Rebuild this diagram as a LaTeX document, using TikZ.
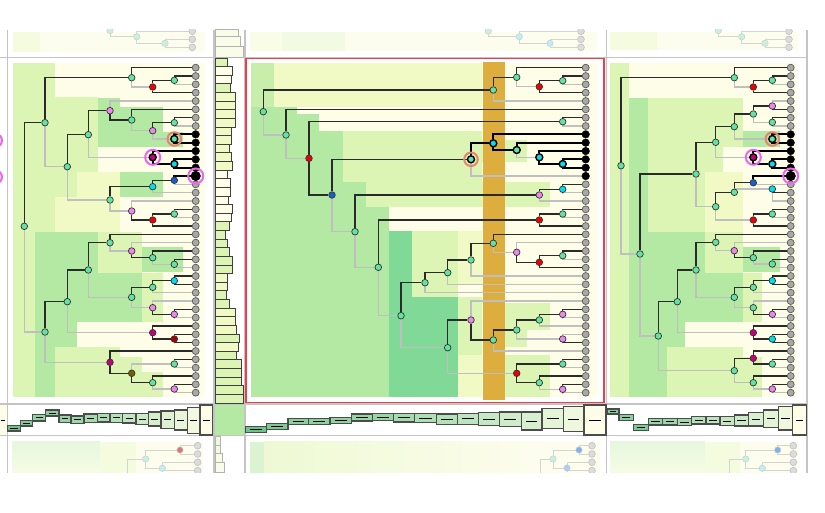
\documentclass[tikz,border=0pt]{standalone}
\pgfdeclarelayer{bglayer}
\pgfdeclarelayer{edgelayer}
\pgfsetlayers{bglayer,edgelayer,main}
\definecolor{cr}{HTML}{FEFEE8}
\definecolor{pl}{HTML}{F1F9C4}
\definecolor{lg}{HTML}{DCF4B4}
\definecolor{mg}{HTML}{B4E9A3}
\definecolor{dg}{HTML}{80D996}
\definecolor{hg}{HTML}{6CC48A}
\definecolor{goldband}{HTML}{DDAE3E}
\definecolor{mint}{HTML}{62E3A4}
\definecolor{vio}{HTML}{EE86EE}
\definecolor{rd}{HTML}{F00000}
\definecolor{cy}{HTML}{00DDEE}
\definecolor{bl}{HTML}{1560C8}
\definecolor{mag}{HTML}{C4007C}
\definecolor{dred}{HTML}{A80000}
\definecolor{olv}{HTML}{6E6400}
\definecolor{lfgray}{HTML}{A8A8A8}
\definecolor{edgegray}{HTML}{BFBFBF}
\definecolor{edgeblack}{HTML}{2A2A2A}
\definecolor{gridgray}{HTML}{C4C4C4}
\definecolor{redbox}{HTML}{E8404C}
\definecolor{ringor}{HTML}{E8846C}
\definecolor{ringmg}{HTML}{F064EC}
\definecolor{fgray}{HTML}{DCDCDC}
\definecolor{fline}{HTML}{D4D4D4}
\definecolor{fmint}{HTML}{C6F2DC}
\definecolor{fcyan}{HTML}{BDEFF4}
\definecolor{fred}{HTML}{D87878}
\definecolor{fblue}{HTML}{7FB2E6}
\definecolor{fblue2}{HTML}{AACDF0}
\definecolor{fpanel}{HTML}{FDFDEE}
\tikzset{
  nd/.style={circle,draw=black!80,line width=0.7pt,inner sep=0pt,minimum size=6.6pt,fill=#1},
  ndh/.style={circle,draw=black,line width=1.4pt,inner sep=0pt,minimum size=7pt,fill=#1},
  leafnd/.style={circle,draw=black!65,line width=0.7pt,inner sep=0pt,minimum size=7pt,fill=lfgray},
  bleaf/.style={circle,draw=black,fill=black,inner sep=0pt,minimum size=7.6pt},
  bigleaf/.style={circle,draw=black,fill=black,inner sep=0pt,minimum size=9.6pt},
  bk/.style={draw=edgeblack,line width=1.2pt},
  gy/.style={draw=edgegray,line width=1.2pt},
  bkt/.style={draw=black,line width=2.2pt},
  orring/.style={circle,draw=ringor,line width=2pt,inner sep=0pt,minimum size=13.5pt},
  mgring/.style={circle,draw=ringmg,line width=2pt,inner sep=0pt,minimum size=15pt},
  fnd/.style={circle,draw=black!20,line width=0.5pt,inner sep=0pt,minimum size=6.4pt,fill=#1},
  fleaf/.style={circle,draw=black!25,line width=0.6pt,inner sep=0pt,minimum size=6.8pt,fill=fgray},
  fl/.style={draw=fline,line width=1pt},
  hbox/.style={draw=black!70,line width=1.2pt},
  dashln/.style={draw=black,line width=0.9pt},
  vbar/.style={draw=black!75,line width=0.8pt},
  gridln/.style={draw=gridgray,line width=1.4pt}
}
\begin{document}
\begin{tikzpicture}[x=1pt,y=-1pt]
\useasboundingbox (0,0) rectangle (825,513);
\begin{pgfonlayer}{bglayer}
\fill[white] (0,0) rectangle (825,513);
% ---------- faded top row ----------
\fill[fpanel] (12.7,31.7) rectangle (205,52);
\fill[lg!25!fpanel] (12.7,31.7) rectangle (40,52);
\fill[fpanel] (250,31.7) rectangle (597,51);
\fill[lg!12!fpanel] (250,31.7) rectangle (281.7,51);
\fill[mg!15!fpanel] (281.7,31.7) rectangle (345,51);
\fill[fpanel] (610,31.7) rectangle (798,50);
\fill[lg!25!fpanel] (610,31.7) rectangle (657,50);
% ---------- faded bottom row ----------
\fill[fpanel] (12.7,441.7) rectangle (203,474);
\shade[top color=mg!35!white,bottom color=lg!15!fpanel] (12.7,441.7) rectangle (100,474);
\fill[lg!25!fpanel] (100,441.7) rectangle (136,474);
\fill[fpanel] (250,441.7) rectangle (600,474);
\fill[mg!50!white] (250,441.7) rectangle (264,474);
\shade[left color=lg!45!fpanel,right color=fpanel] (264,441.7) rectangle (547,474);
\fill[fpanel] (610,441.7) rectangle (798,474);
\shade[top color=mg!35!white,bottom color=lg!15!fpanel] (610,441.7) rectangle (705,474);
\fill[lg!25!fpanel] (705,441.7) rectangle (740,474);
% ---------- left panel background ----------
\fill[cr] (12.7,63) rectangle (205,397);
\fill[lg] (12.7,63) rectangle (55,397);
\fill[lg] (55,96.7) rectangle (98.3,171.7);
\fill[mg] (98.3,98.3) rectangle (120,146.7);
\fill[mg] (120,106.7) rectangle (162.7,146.7);
\fill[mg] (162.7,131.7) rectangle (183.3,146.7);
\fill[lg] (55,171.7) rectangle (76.7,196.7);
\fill[pl] (76.7,171.7) rectangle (120,196.7);
\fill[mg] (120,171.7) rectangle (162.7,196.7);
\fill[pl] (55,196.7) rectangle (120,231.7);
\fill[mg] (34.7,231.7) rectangle (55,397);
\fill[mg] (55,231.7) rectangle (98.3,321.7);
\fill[lg] (98.3,231.7) rectangle (141.7,273.3);
\fill[mg] (141.7,246.7) rectangle (183.3,271.7);
\fill[mg] (98.3,273.3) rectangle (141.7,321.7);
\fill[lg] (141.7,273.3) rectangle (163.3,321.7);
\fill[mg] (55,321.7) rectangle (76.7,346.7);
\fill[lg] (55,346.7) rectangle (120,397);
\fill[lg] (120,356.7) rectangle (141.7,397);
\fill[lg] (141.7,371.7) rectangle (163.3,397);
% ---------- middle panel background ----------
\fill[cr] (250.7,63.3) rectangle (597.3,396.7);
\fill[lg!50!mg] (250.7,63.3) rectangle (274,106.7);
\fill[mg] (250.7,106.7) rectangle (274,396.7);
\fill[pl] (274,63.3) rectangle (482,106.7);
\fill[mg] (274,106.7) rectangle (296.7,396.7);
\fill[mg] (296.7,114) rectangle (319.3,396.7);
\fill[mg] (319.3,131) rectangle (342.7,396.7);
\fill[lg] (342.7,131) rectangle (482,181.7);
\fill[lg] (482,140) rectangle (526.7,161.7);
\fill[mg] (342.7,181.7) rectangle (366,396.7);
\fill[lg] (366,181.7) rectangle (550,206.7);
\fill[mg] (366,206.7) rectangle (389,396.7);
\fill[dg] (389,231) rectangle (412.3,396.7);
\fill[lg] (412.3,231) rectangle (458.3,296.7);
\fill[dg] (412.3,296.7) rectangle (458.3,396.7);
\fill[pl] (458.3,231) rectangle (482,285);
\fill[lg] (458.3,296.7) rectangle (482,355);
\fill[pl] (458.3,355) rectangle (482,396.7);
\fill[lg] (505,303) rectangle (550,330);
\fill[lg] (505,330) rectangle (527,346.7);
\fill[lg] (505,355) rectangle (550,396.7);
\fill[goldband] (482.7,62) rectangle (505,400);
% ---------- right panel background ----------
\fill[cr] (610,63) rectangle (797,397);
\fill[lg] (610,63) rectangle (629.3,397);
\fill[mg] (629.3,97.7) rectangle (648.3,397);
\fill[lg] (648.3,97.7) rectangle (743.3,173);
\fill[mg] (743.3,131) rectangle (780,146.7);
\fill[cr] (723.3,146.7) rectangle (761.7,173);
\fill[lg] (648.3,173) rectangle (705,231.7);
\fill[pl] (705,171.7) rectangle (743.3,231.7);
\fill[mg] (648.3,231.7) rectangle (666.7,397);
\fill[mg] (666.7,231.7) rectangle (685,346.7);
\fill[mg] (685,231.7) rectangle (705,321.7);
\fill[lg] (705,231.7) rectangle (743.3,272.7);
\fill[mg] (705,272.7) rectangle (743.3,321.7);
\fill[mg] (743.3,246.7) rectangle (780,271.7);
\fill[lg] (743.3,272.7) rectangle (762,321.7);
\fill[cr] (685,321.7) rectangle (797,346.7);
\fill[lg] (666.7,346.7) rectangle (743.3,397);
\fill[lg] (743.3,356.7) rectangle (762,397);
% ---------- grid ----------
\draw[gridln] (0,57.3) -- (808,57.3);
\draw[gridln] (0,404) -- (808,404);
\draw[gridln] (0,435.5) -- (808,435.5);
\draw[gridln] (7.3,30) -- (7.3,474);
\draw[gridln] (213.8,30) -- (213.8,474);
\draw[gridln] (245,30) -- (245,474);
\draw[gridln] (606.5,30) -- (606.5,474);
\draw[gridln] (807,30) -- (807,474);
\draw[redbox,line width=1.5pt] (245.9,58.5) rectangle (604,402.7);
\end{pgfonlayer}

% ---------- vertical histogram column ----------
\foreach \w/\c [count=\k from 0] in {227.3/lg,232.3/cr,231.7/cr,230/lg,235/pl,235/pl,235/pl,235/pl,231.7/pl,231.7/pl,229.3/pl,231.7/pl,232.3/pl,227.7/cr,230/cr,230/cr,228.3/cr,232.3/cr,231.7/cr,229.3/lg,225/lg,227.7/lg,229.3/lg,232.3/lg,232.3/lg,227.3/pl,227.3/pl,226.7/lg,229.3/lg,235/pl,235/pl,236.7/pl,239.3/lg,238.3/pl,236.7/lg,241.7/lg,241.7/lg,241.7/lg,243.3/lg,243.3/lg}
  \draw[vbar,fill=\c] (215,{58+8.625*\k}) rectangle (\w,{58+8.625*(\k+1)});
\draw[vbar,draw=black!30,fill=pl!40!white] (215,29) rectangle (238.3,36.7);
\draw[vbar,draw=black!30,fill=pl!40!white] (215,36.7) rectangle (240.7,46.7);
\draw[vbar,draw=black!30,fill=pl!40!white] (215,46.7) rectangle (243.3,57.3);
\draw[vbar,draw=black!30,fill=lg!50!white] (215,436.5) rectangle (220,445);
\draw[vbar,draw=black!30,fill=lg!40!white] (215,445) rectangle (220.5,453.5);
\draw[vbar,draw=black!30,fill=pl!50!white] (215,453.5) rectangle (222,462);
\draw[vbar,draw=black!30,fill=pl!40!white] (215,462) rectangle (224.7,472);

% ---------- bottom histograms ----------
\fill[mg] (214.5,404.8) rectangle (244.3,434.8);
\fill[cr] (0,404.8) rectangle (6.6,434.8);
\draw[dashln] (0.5,420) -- (5,420);
\foreach \xa/\xb/\ya/\yb/\sh in {7.3/20.7/425.7/431/100,20.7/32.7/420.7/426/88,32.7/45.7/414.3/421/75,45.7/59/410/416/80,59/71/415/422.7/70,71/84/416/423.7/68,84/97.3/414/422.7/62,97.3/110/413.3/422/58,110/122.7/413.3/422.3/50,122.7/136/413.3/423/42,136/148.7/413.3/424.7/35,148.7/161/412/426/28,161/174.3/411/428.3/22,174.3/187.3/410/430/15,187.3/200/407.3/433.3/8,200/212.7/405/435/0,
245.2/266.8/426.7/432.7/100,266.8/288/423.3/429.3/90,288/308.8/418.3/424.3/80,308.8/330/418.3/424.3/78,330/351.2/417.3/423.3/74,351.2/372.8/414/421/72,372.8/393.6/413.3/420.7/70,393.6/414.4/413.3/422/62,414.4/436.4/413.3/422.7/55,436.4/457.2/414/424.3/50,457.2/478.4/413.3/424.3/45,478.4/499.2/412.7/425.3/38,499.2/521.2/412/426.7/32,521.2/542/412/430/26,542/563.2/408.3/428.3/18,563.2/584/406.7/431.7/10,584/606/405/435/0,
607/619/409/414/85,619/633.3/414.3/420.7/80,633.3/648.3/424.3/430.7/90,648.3/662.7/418.3/425/70,662.7/677.3/418.3/425/68,677.3/691.7/418.3/425.7/64,691.7/706/416.7/424/50,706/720/416.7/424/45,720/734.3/416.7/425.7/40,734.3/748.7/415/426/35,748.7/763.3/412.7/426/25,763.3/778.3/410/427.7/18,778.3/792.7/406.7/430/10,792.7/806.5/405/435/0}
{
  \draw[hbox,fill=hg!\sh!cr] (\xa,\ya) rectangle (\xb,\yb);
  \draw[dashln] ({\xa+0.22*(\xb-\xa)},{(\ya+\yb)/2}) -- ({\xb-0.22*(\xb-\xa)},{(\ya+\yb)/2});
}

% ---------- partial rings at far left ----------
\draw[ringmg,line width=2pt] (-4.5,140.5) circle (6.5);
\draw[ringmg,line width=2pt] (-4.5,177) circle (6.5);

% ================= LEFT TREE =================
\foreach \i in {0,...,7} \node[leafnd] (la\i) at (195.7,{67.7+8.333*\i}) {};
\foreach \i in {14,...,39} \node[leafnd] (la\i) at (195.7,{67.7+8.333*\i}) {};
\foreach \i in {8,...,12} \node[bleaf] (la\i) at (195.7,{67.7+8.333*\i}) {};
\node[bigleaf] (la13) at (195.7,176) {};
\node[mgring] (la13r) at (la13) {};
\node[nd=mint] (lR) at (24.3,226.3) {};
\node[nd=mint] (lA) at (45,122.7) {};
\node[nd=mint] (lN1) at (131.7,77.7) {};
\node[nd=rd] (lR1) at (152.7,87) {};
\node[nd=mint] (lG1) at (174.3,80.3) {};
\node[nd=mint] (lC) at (67.3,166.7) {};
\node[nd=mint] (lD) at (88.3,134.7) {};
\node[nd=vio] (lP1) at (110,110.7) {};
\node[nd=mint] (lG2) at (131.7,120) {};
\node[nd=vio] (lP2) at (152.7,130.7) {};
\node[nd=mint] (lG3) at (174.3,122.7) {};
\node[ndh=mint] (lG4) at (174.3,139) {};
\node[orring] (lG4r) at (lG4) {};
\node[ndh=mag] (lM1) at (152.7,157.3) {};
\node[mgring] (lM1r) at (lM1) {};
\node[ndh=cy] (lC1) at (174.3,164) {};
\node[nd=mint] (lE) at (110,200) {};
\node[nd=cy] (lCY1) at (152.7,186.7) {};
\node[nd=bl] (lBL1) at (174.3,180.3) {};
\node[nd=vio] (lP3) at (131.7,211) {};
\node[nd=rd] (lR2) at (152.7,220) {};
\node[nd=mint] (lG5) at (174.3,214) {};
\node[nd=mint] (lB2) at (45,332) {};
\node[nd=mint] (lF) at (67.3,301.7) {};
\node[nd=mint] (lH) at (88.3,270) {};
\node[nd=mint] (lI) at (110,242.7) {};
\node[nd=vio] (lP4) at (131.7,251) {};
\node[nd=mint] (lG6) at (152.7,257.7) {};
\node[nd=mint] (lG7) at (174.3,264.3) {};
\node[nd=mint] (lJ) at (131.7,297.3) {};
\node[nd=mint] (lG8) at (152.7,287.3) {};
\node[nd=cy] (lC2) at (174.3,280.7) {};
\node[nd=vio] (lP5) at (152.7,307.7) {};
\node[nd=vio] (lP6) at (174.3,314.3) {};
\node[nd=mag] (lM3) at (152.7,332.7) {};
\node[nd=dred] (lDR) at (174.3,339) {};
\node[nd=mag] (lM2) at (110,362.3) {};
\node[nd=olv] (lO) at (131.7,373.3) {};
\node[nd=mint] (lG9) at (174.3,364) {};
\node[nd=mint] (lG10) at (152.7,382.7) {};
\node[nd=vio] (lP7) at (174.3,389) {};

% ================= MIDDLE TREE =================
\foreach \i in {0,...,7} \node[leafnd] (ma\i) at (585.7,{67.7+8.333*\i}) {};
\foreach \i in {14,...,39} \node[leafnd] (ma\i) at (585.7,{67.7+8.333*\i}) {};
\foreach \i in {8,...,13} \node[bleaf] (ma\i) at (585.7,{67.7+8.333*\i}) {};
\node[nd=mint] (mR) at (263.3,111.7) {};
\node[nd=mint] (mN1) at (493.3,90) {};
\node[nd=mint] (mB) at (516.7,77.3) {};
\node[nd=rd] (mRd1) at (539.3,86.7) {};
\node[nd=mint] (mG1) at (562.7,80.7) {};
\node[nd=mint] (mA) at (286,135) {};
\node[nd=rd] (mRd2) at (309,158.3) {};
\node[nd=mint] (mG2) at (562.7,121.7) {};
\node[nd=bl] (mBl) at (332,195) {};
\node[ndh=mint] (mRing) at (471,159.3) {};
\node[orring] (mRingr) at (mRing) {};
\node[ndh=cy] (mCy1) at (493.3,143.3) {};
\node[ndh=mint] (mG3) at (516.7,150) {};
\node[ndh=cy] (mCy2) at (539.3,157.3) {};
\node[ndh=cy] (mCy3) at (562.7,164) {};
\node[nd=mint] (mC) at (355,231.7) {};
\node[nd=vio] (mP1) at (539.3,195) {};
\node[nd=cy] (mCy4) at (562.7,189.3) {};
\node[nd=mint] (mD) at (378.3,267.3) {};
\node[nd=rd] (mRd3) at (539.3,220) {};
\node[nd=mint] (mG4) at (562.7,214) {};
\node[nd=mint] (mE) at (401,315.7) {};
\node[nd=mint] (mF) at (425,282.7) {};
\node[nd=mint] (mG) at (447.7,272.7) {};
\node[nd=mint] (mI) at (471,260) {};
\node[nd=mint] (mJ) at (493.3,243.3) {};
\node[nd=vio] (mP2) at (516.7,252.3) {};
\node[nd=rd] (mRd4) at (539.3,262.3) {};
\node[nd=mint] (mG5) at (562.7,255.7) {};
\node[nd=mint] (mH) at (447.7,347.7) {};
\node[nd=vio] (mP3) at (471,320) {};
\node[nd=mint] (mG6) at (493.3,340) {};
\node[nd=mint] (mK) at (516.7,330) {};
\node[nd=mint] (mL) at (539.3,320) {};
\node[nd=vio] (mP4) at (562.7,314.3) {};
\node[nd=vio] (mP5) at (562.7,339) {};
\node[nd=rd] (mRd5) at (516.7,373.3) {};
\node[nd=mint] (mG7) at (562.7,364) {};
\node[nd=mint] (mG8) at (539.3,382.7) {};
\node[nd=vio] (mP6) at (562.7,389.3) {};

% ================= RIGHT TREE =================
\foreach \i in {0,...,7} \node[leafnd] (ra\i) at (790.7,{67.7+8.333*\i}) {};
\foreach \i in {14,...,39} \node[leafnd] (ra\i) at (790.7,{67.7+8.333*\i}) {};
\foreach \i in {8,...,12} \node[bleaf] (ra\i) at (790.7,{67.7+8.333*\i}) {};
\node[bigleaf] (ra13) at (790.7,176) {};
\node[mgring] (ra13r) at (ra13) {};
\node[nd=mint] (rR) at (621,165.7) {};
\node[nd=mint] (rA) at (734.3,77.7) {};
\node[nd=rd] (rRd1) at (753.3,87) {};
\node[nd=mint] (rG1) at (772.3,80.3) {};
\node[nd=mint] (rB) at (640,254) {};
\node[nd=mint] (rC) at (696,174) {};
\node[nd=mint] (rD) at (715.7,142.3) {};
\node[nd=mint] (rE) at (734.3,126.7) {};
\node[nd=mint] (rF) at (753.3,114) {};
\node[nd=vio] (rP1) at (772.3,106) {};
\node[nd=mint] (rG2) at (772.3,122.3) {};
\node[ndh=mint] (rRing) at (772.3,139) {};
\node[orring] (rRingr) at (rRing) {};
\node[ndh=mag] (rM1) at (753.3,157.3) {};
\node[mgring] (rM1r) at (rM1) {};
\node[ndh=cy] (rCy1) at (772.3,164) {};
\node[nd=mint] (rH) at (715.7,206.7) {};
\node[nd=mint] (rI) at (734.3,192.3) {};
\node[nd=bl] (rBl) at (753.3,182.7) {};
\node[nd=cy] (rCy2) at (772.3,189) {};
\node[nd=rd] (rRd2) at (753.3,220) {};
\node[nd=mint] (rG3) at (772.3,214) {};
\node[nd=mint] (rK) at (658.3,336) {};
\node[nd=mint] (rL) at (677.3,301.7) {};
\node[nd=mint] (rN) at (696,270) {};
\node[nd=mint] (rO) at (715.7,242.3) {};
\node[nd=vio] (rP2) at (734.3,250.7) {};
\node[nd=mint] (rS) at (753.3,257.7) {};
\node[nd=mint] (rG4) at (772.3,264) {};
\node[nd=mint] (rQ) at (734.3,297.3) {};
\node[nd=mint] (rU) at (753.3,287.3) {};
\node[nd=cy] (rCy3) at (772.3,280.7) {};
\node[nd=mint] (rV) at (753.3,307.7) {};
\node[nd=vio] (rP3) at (772.3,314.3) {};
\node[nd=mag] (rM2) at (753.3,332.7) {};
\node[nd=cy] (rCy4) at (772.3,339) {};
\node[nd=mint] (rT) at (734.3,370.7) {};
\node[nd=mag] (rM3) at (753.3,358.3) {};
\node[nd=mint] (rG5) at (772.3,364) {};
\node[nd=mint] (rW) at (753.3,382.7) {};
\node[nd=vio] (rP4) at (772.3,389) {};

% ================= FADED TREES =================
\node[fnd=fmint] (tl1) at (110,30.5) {};
\node[fnd=fmint] (tl2) at (136.7,36.7) {};
\node[fnd=fmint] (tl3) at (165,43.3) {};
\node[fleaf] (tlL0) at (192.3,31.2) {};
\node[fleaf] (tlL1) at (192.3,39.3) {};
\node[fleaf] (tlL2) at (192.3,47.3) {};
\node[fnd=fmint] (tm1) at (488.3,31) {};
\node[fnd=fcyan] (tm2) at (519.3,36.7) {};
\node[fnd=fcyan] (tm3) at (550,43.3) {};
\node[fleaf] (tmL0) at (581,31.2) {};
\node[fleaf] (tmL1) at (581,39.3) {};
\node[fleaf] (tmL2) at (581,47.3) {};
\node[fnd=fmint] (tr1) at (718.3,30.5) {};
\node[fnd=fmint] (tr2) at (741.7,36.7) {};
\node[fnd=fmint] (tr3) at (765,43.3) {};
\node[fleaf] (trL0) at (789,31.2) {};
\node[fleaf] (trL1) at (789,39.3) {};
\node[fleaf] (trL2) at (789,47.3) {};
\node[fnd=fmint] (bl1) at (145.7,459) {};
\node[fnd=fred] (bl2) at (180,450) {};
\node[fnd=fcyan] (bl3) at (162.3,468.3) {};
\foreach \i/\yy in {0/445.7,1/454,2/462.3,3/470.7} \node[fleaf] (blL\i) at (197.7,\yy) {};
\coordinate (blx) at (127.7,478);
\node[fnd=fmint] (bm1) at (553,459) {};
\node[fnd=fblue] (bm2) at (579,450) {};
\node[fnd=fblue2] (bm3) at (567,468) {};
\foreach \i/\yy in {0/445.7,1/454,2/462.3,3/470.7} \node[fleaf] (bmL\i) at (592,\yy) {};
\coordinate (bmx) at (540,478);
\node[fnd=fmint] (br1) at (745.7,459) {};
\node[fnd=fblue] (br2) at (777.7,450) {};
\node[fnd=fcyan] (br3) at (762.3,468.3) {};
\foreach \i/\yy in {0/445.7,1/454,2/462.3,3/470.7} \node[fleaf] (brL\i) at (793.3,\yy) {};
\coordinate (brx) at (729.3,478);

\begin{pgfonlayer}{edgelayer}
% left tree
\draw[bk] (lR) |- (lA); \draw[gy] (lR) |- (lB2);
\draw[bk] (lA) |- (lN1); \draw[gy] (lA) |- (lC);
\draw[bk] (lN1) |- (la0); \draw[gy] (lN1) |- (lR1);
\draw[bk] (lR1) |- (lG1); \draw[bk] (lR1) |- (la3);
\draw[bk] (lG1) |- (la1); \draw[gy] (lG1) |- (la2);
\draw[bk] (lC) |- (lD); \draw[gy] (lC) |- (lE);
\draw[bk] (lD) |- (lP1); \draw[gy] (lD) |- (lM1);
\draw[gy] (lP1) |- (la4); \draw[bk] (lP1) |- (lG2);
\draw[bk] (lG2) |- (la5); \draw[gy] (lG2) |- (lP2);
\draw[bk] (lP2) |- (lG3); \draw[gy] (lP2) |- (lG4);
\draw[bk] (lG3) |- (la6); \draw[gy] (lG3) |- (la7);
\draw[bkt] (lG4) |- (la8); \draw[bkt] (lG4) |- (la9);
\draw[bkt] (lM1) |- (la10); \draw[bkt] (lM1) |- (lC1);
\draw[bkt] (lC1) |- (la11); \draw[bkt] (lC1) |- (la12);
\draw[bk] (lE) |- (lCY1); \draw[gy] (lE) |- (lP3);
\draw[bk] (lCY1) |- (lBL1); \draw[gy] (lCY1) |- (la15);
\draw[bkt] (lBL1) |- (la13); \draw[gy] (lBL1) |- (la14);
\draw[gy] (lP3) |- (la16); \draw[bk] (lP3) |- (lR2);
\draw[bk] (lR2) |- (lG5); \draw[bk] (lR2) |- (la19);
\draw[bk] (lG5) |- (la17); \draw[gy] (lG5) |- (la18);
\draw[bk] (lB2) |- (lF); \draw[gy] (lB2) |- (lM2);
\draw[bk] (lF) |- (lH); \draw[gy] (lF) |- (lM3);
\draw[bk] (lH) |- (lI); \draw[gy] (lH) |- (lJ);
\draw[bk] (lI) |- (la20); \draw[gy] (lI) |- (lP4);
\draw[gy] (lP4) |- (la21); \draw[bk] (lP4) |- (lG6);
\draw[bk] (lG6) |- (la22); \draw[gy] (lG6) |- (lG7);
\draw[bk] (lG7) |- (la23); \draw[gy] (lG7) |- (la24);
\draw[bk] (lJ) |- (lG8); \draw[gy] (lJ) |- (lP5);
\draw[bk] (lG8) |- (lC2); \draw[gy] (lG8) |- (la27);
\draw[bk] (lC2) |- (la25); \draw[bk] (lC2) |- (la26);
\draw[gy] (lP5) |- (la28); \draw[bk] (lP5) |- (lP6);
\draw[bk] (lP6) |- (la29); \draw[gy] (lP6) |- (la30);
\draw[bk] (lM3) |- (la31); \draw[bk] (lM3) |- (lDR);
\draw[bk] (lDR) |- (la32); \draw[bk] (lDR) |- (la33);
\draw[bk] (lM2) |- (la34); \draw[bk] (lM2) |- (lO);
\draw[gy] (lO) |- (lG9); \draw[bk] (lO) |- (lG10);
\draw[bk] (lG9) |- (la35); \draw[gy] (lG9) |- (la36);
\draw[bk] (lG10) |- (la37); \draw[gy] (lG10) |- (lP7);
\draw[bk] (lP7) |- (la38); \draw[gy] (lP7) |- (la39);
% middle tree
\draw[bk] (mR) |- (mN1); \draw[gy] (mR) |- (mA);
\draw[bk] (mN1) |- (mB); \draw[gy] (mN1) |- (ma4);
\draw[bk] (mB) |- (ma0); \draw[gy] (mB) |- (mRd1);
\draw[bk] (mRd1) |- (mG1); \draw[bk] (mRd1) |- (ma3);
\draw[bk] (mG1) |- (ma1); \draw[gy] (mG1) |- (ma2);
\draw[bk] (mA) |- (ma5); \draw[gy] (mA) |- (mRd2);
\draw[bk] (mRd2) |- (mG2); \draw[bk] (mRd2) |- (mBl);
\draw[bk] (mG2) |- (ma6); \draw[gy] (mG2) |- (ma7);
\draw[bk] (mBl) |- (mRing); \draw[gy] (mBl) |- (mC);
\draw[bkt] (mRing) |- (mCy1); \draw[gy] (mRing) |- (ma13);
\draw[bkt] (mCy1) |- (ma8); \draw[bkt] (mCy1) |- (mG3);
\draw[bkt] (mG3) |- (ma9); \draw[gy] (mG3) |- (mCy2);
\draw[bkt] (mCy2) |- (ma10); \draw[bkt] (mCy2) |- (mCy3);
\draw[bkt] (mCy3) |- (ma11); \draw[bkt] (mCy3) |- (ma12);
\draw[bk] (mC) |- (mP1); \draw[gy] (mC) |- (mD);
\draw[bk] (mP1) |- (mCy4); \draw[gy] (mP1) |- (ma16);
\draw[bk] (mCy4) |- (ma14); \draw[gy] (mCy4) |- (ma15);
\draw[bk] (mD) |- (mRd3); \draw[gy] (mD) |- (mE);
\draw[bk] (mRd3) |- (mG4); \draw[bk] (mRd3) |- (ma19);
\draw[bk] (mG4) |- (ma17); \draw[gy] (mG4) |- (ma18);
\draw[bk] (mE) |- (mF); \draw[gy] (mE) |- (mH);
\draw[bk] (mF) |- (mG); \draw[gy] (mF) |- (ma27);
\draw[bk] (mG) |- (mI); \draw[gy] (mG) |- (ma26);
\draw[bk] (mI) |- (mJ); \draw[gy] (mI) |- (ma25);
\draw[bk] (mJ) |- (ma20); \draw[gy] (mJ) |- (mP2);
\draw[gy] (mP2) |- (ma21); \draw[bk] (mP2) |- (mRd4);
\draw[bk] (mRd4) |- (mG5); \draw[bk] (mRd4) |- (ma24);
\draw[bk] (mG5) |- (ma22); \draw[gy] (mG5) |- (ma23);
\draw[bk] (mH) |- (mP3); \draw[gy] (mH) |- (mRd5);
\draw[gy] (mP3) |- (ma28); \draw[bk] (mP3) |- (mG6);
\draw[bk] (mG6) |- (mK); \draw[gy] (mG6) |- (ma34);
\draw[bk] (mK) |- (mL); \draw[gy] (mK) |- (mP5);
\draw[bk] (mL) |- (mP4); \draw[gy] (mL) |- (ma31);
\draw[bk] (mP4) |- (ma29); \draw[gy] (mP4) |- (ma30);
\draw[gy] (mP5) |- (ma32); \draw[bk] (mP5) |- (ma33);
\draw[bk] (mRd5) |- (mG7); \draw[bk] (mRd5) |- (mG8);
\draw[bk] (mG7) |- (ma35); \draw[gy] (mG7) |- (ma36);
\draw[bk] (mG8) |- (ma37); \draw[gy] (mG8) |- (mP6);
\draw[bk] (mP6) |- (ma38); \draw[gy] (mP6) |- (ma39);
% right tree
\draw[bk] (rR) |- (rA); \draw[gy] (rR) |- (rB);
\draw[bk] (rA) |- (ra0); \draw[gy] (rA) |- (rRd1);
\draw[bk] (rRd1) |- (rG1); \draw[bk] (rRd1) |- (ra3);
\draw[bk] (rG1) |- (ra1); \draw[gy] (rG1) |- (ra2);
\draw[bk] (rB) |- (rC); \draw[gy] (rB) |- (rK);
\draw[bk] (rC) |- (rD); \draw[gy] (rC) |- (rH);
\draw[bk] (rD) |- (rE); \draw[gy] (rD) |- (rM1);
\draw[bk] (rE) |- (rF); \draw[gy] (rE) |- (rRing);
\draw[bk] (rF) |- (rP1); \draw[gy] (rF) |- (rG2);
\draw[gy] (rP1) |- (ra4); \draw[bk] (rP1) |- (ra5);
\draw[bk] (rG2) |- (ra6); \draw[gy] (rG2) |- (ra7);
\draw[bkt] (rRing) |- (ra8); \draw[bkt] (rRing) |- (ra9);
\draw[bkt] (rM1) |- (ra10); \draw[bkt] (rM1) |- (rCy1);
\draw[bkt] (rCy1) |- (ra11); \draw[bkt] (rCy1) |- (ra12);
\draw[bk] (rH) |- (rI); \draw[gy] (rH) |- (rRd2);
\draw[bk] (rI) |- (rBl); \draw[gy] (rI) |- (rCy2);
\draw[bkt] (rBl) |- (ra13); \draw[gy] (rBl) |- (ra14);
\draw[bk] (rCy2) |- (ra15); \draw[gy] (rCy2) |- (ra16);
\draw[bk] (rRd2) |- (rG3); \draw[bk] (rRd2) |- (ra19);
\draw[bk] (rG3) |- (ra17); \draw[gy] (rG3) |- (ra18);
\draw[bk] (rK) |- (rL); \draw[gy] (rK) |- (rT);
\draw[bk] (rL) |- (rN); \draw[gy] (rL) |- (rM2);
\draw[bk] (rN) |- (rO); \draw[gy] (rN) |- (rQ);
\draw[bk] (rO) |- (ra20); \draw[gy] (rO) |- (rP2);
\draw[gy] (rP2) |- (ra21); \draw[bk] (rP2) |- (rS);
\draw[bk] (rS) |- (ra22); \draw[gy] (rS) |- (rG4);
\draw[bk] (rG4) |- (ra23); \draw[gy] (rG4) |- (ra24);
\draw[bk] (rQ) |- (rU); \draw[gy] (rQ) |- (rV);
\draw[bk] (rU) |- (rCy3); \draw[gy] (rU) |- (ra27);
\draw[bk] (rCy3) |- (ra25); \draw[bk] (rCy3) |- (ra26);
\draw[gy] (rV) |- (ra28); \draw[bk] (rV) |- (rP3);
\draw[bk] (rP3) |- (ra29); \draw[gy] (rP3) |- (ra30);
\draw[bk] (rM2) |- (ra31); \draw[bk] (rM2) |- (rCy4);
\draw[bk] (rCy4) |- (ra32); \draw[bk] (rCy4) |- (ra33);
\draw[bk] (rT) |- (rM3); \draw[gy] (rT) |- (rW);
\draw[bk] (rM3) |- (ra34); \draw[bk] (rM3) |- (rG5);
\draw[bk] (rG5) |- (ra35); \draw[gy] (rG5) |- (ra36);
\draw[bk] (rW) |- (ra37); \draw[gy] (rW) |- (rP4);
\draw[bk] (rP4) |- (ra38); \draw[gy] (rP4) |- (ra39);
% faded trees
\draw[fl] (tl1) |- (tl2); \draw[fl] (tl2) |- (tlL0); \draw[fl] (tl2) |- (tl3);
\draw[fl] (tl3) |- (tlL1); \draw[fl] (tl3) |- (tlL2);
\draw[fl] (tm1) |- (tm2); \draw[fl] (tm2) |- (tmL0); \draw[fl] (tm2) |- (tm3);
\draw[fl] (tm3) |- (tmL1); \draw[fl] (tm3) |- (tmL2);
\draw[fl] (tr1) |- (tr2); \draw[fl] (tr2) |- (trL0); \draw[fl] (tr2) |- (tr3);
\draw[fl] (tr3) |- (trL1); \draw[fl] (tr3) |- (trL2);
\draw[fl] (bl1) |- (bl2); \draw[fl] (bl2) |- (blL0); \draw[fl] (bl2) |- (blL1);
\draw[fl] (bl1) |- (bl3); \draw[fl] (bl3) |- (blL2); \draw[fl] (bl3) |- (blL3);
\draw[fl] (bl1) -| (blx);
\draw[fl] (bm1) |- (bm2); \draw[fl] (bm2) |- (bmL0); \draw[fl] (bm2) |- (bmL1);
\draw[fl] (bm1) |- (bm3); \draw[fl] (bm3) |- (bmL2); \draw[fl] (bm3) |- (bmL3);
\draw[fl] (bm1) -| (bmx);
\draw[fl] (br1) |- (br2); \draw[fl] (br2) |- (brL0); \draw[fl] (br2) |- (brL1);
\draw[fl] (br1) |- (br3); \draw[fl] (br3) |- (brL2); \draw[fl] (br3) |- (brL3);
\draw[fl] (br1) -| (brx);
\end{pgfonlayer}

% white margins that cut the faded rows
\fill[white] (-10,-10) rectangle (835,29.5);
\fill[white] (-10,473) rectangle (835,523);
\end{tikzpicture}
\end{document}
